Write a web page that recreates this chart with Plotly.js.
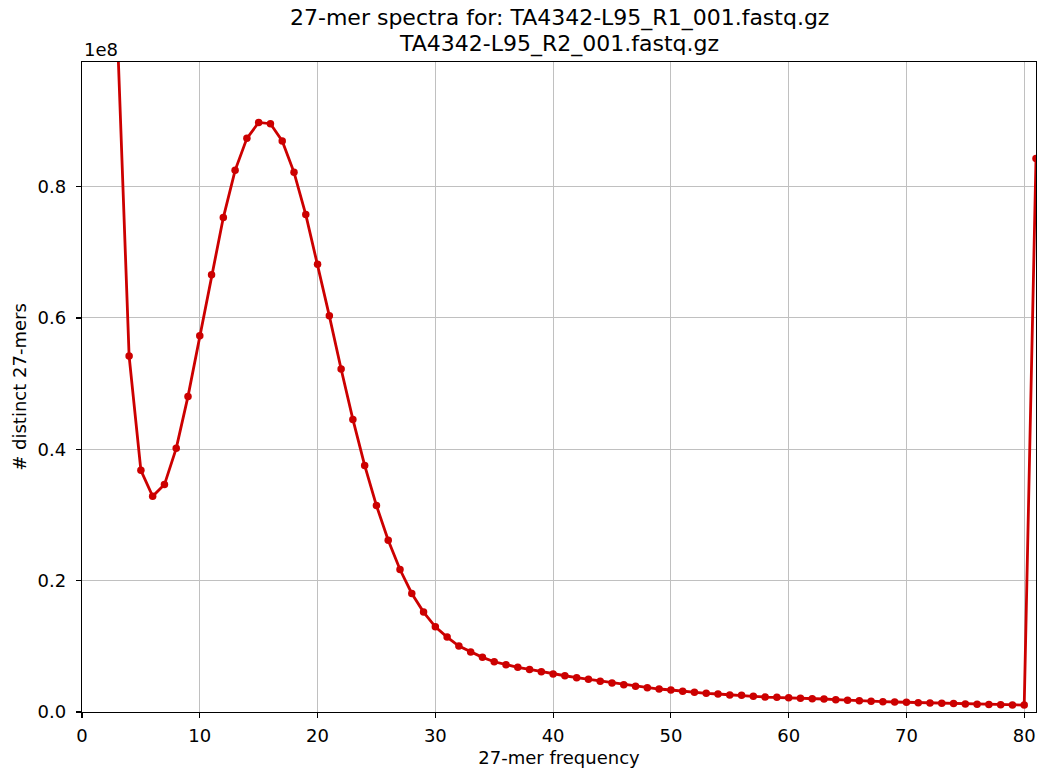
<!DOCTYPE html>
<html>
<head>
<meta charset="utf-8">
<script src="https://cdn.plot.ly/plotly-3.0.1.min.js"></script>
<style>html,body{margin:0;padding:0;background:#fff;}#chart{width:1039px;height:771px;}</style>
</head>
<body>
<div id="chart"></div>
<script>
// 27-mer frequency (multiplicity)
const frequency = [1,2,3,4,5,6,7,8,9,10,11,12,13,14,15,16,17,18,19,20,21,22,23,24,25,26,27,28,29,30,31,32,33,34,35,36,37,38,39,40,41,42,43,44,45,46,47,48,49,50,51,52,53,54,55,56,57,58,59,60,61,62,63,64,65,66,67,68,69,70,71,72,73,74,75,76,77,78,79,80,81];
// number of distinct 27-mers (in units of 1e8)
const distinctE8 = [5.0,2.0,1.035,0.542,0.368,0.3285,0.3463,0.4015,0.4806,0.573,0.6657,0.7529,0.8248,0.8735,0.8978,0.8958,0.8695,0.8218,0.7574,0.6819,0.6033,0.5222,0.4456,0.3755,0.3143,0.2616,0.2170,0.1805,0.1521,0.1298,0.1141,0.1004,0.0913,0.0832,0.0765,0.0720,0.0680,0.0649,0.0613,0.0578,0.0552,0.0522,0.0497,0.0467,0.0441,0.0416,0.0391,0.0370,0.0350,0.0335,0.0315,0.0300,0.0284,0.0274,0.0259,0.0254,0.0239,0.0228,0.0224,0.0218,0.0208,0.0203,0.0198,0.0188,0.0178,0.0172,0.0163,0.0157,0.0152,0.0148,0.0142,0.0137,0.0133,0.0128,0.0123,0.0119,0.0115,0.0112,0.0108,0.0105,0.843];
const yTickLabels = ['0.0','0.2','0.4','0.6','0.8'];
const xTickLabels = ['0','10','20','30','40','50','60','70','80'];
const titleLines = ['27-mer spectra for: TA4342-L95_R1_001.fastq.gz', 'TA4342-L95_R2_001.fastq.gz'];

const scale = 1e8;
const distinct = distinctE8.map(v => v * scale);
const yTickVals = yTickLabels.map(s => parseFloat(s) * scale);
const xTickVals = xTickLabels.map(Number);

const font = 'DejaVu Sans, Liberation Sans, sans-serif';

const trace = {
  x: frequency,
  y: distinct,
  type: 'scatter',
  mode: 'lines+markers',
  line: {color: '#cc0000', width: 2.8},
  marker: {color: '#cc0000', size: 7.5},
  cliponaxis: true,
  hoverinfo: 'x+y'
};

const layout = {
  width: 1039,
  height: 771,
  paper_bgcolor: '#ffffff',
  plot_bgcolor: '#ffffff',
  margin: {l: 82, r: 3, t: 62, b: 59},
  showlegend: false,
  xaxis: {
    range: [0, 81],
    tickvals: xTickVals,
    ticktext: xTickLabels,
    ticks: 'outside', ticklen: 5, tickwidth: 1.2, tickcolor: '#000',
    ticklabelstandoff: 2,
    showgrid: true, gridcolor: '#c0c0c0', gridwidth: 1,
    zeroline: false,
    showline: true, linecolor: '#000', linewidth: 1.3, mirror: true,
    tickfont: {family: font, size: 18, color: '#000'},
    title: {text: '27-mer frequency', font: {family: font, size: 18, color: '#000'}, standoff: 6}
  },
  yaxis: {
    range: [0, 0.9898e8],
    tickvals: yTickVals,
    ticktext: yTickLabels,
    ticks: 'outside', ticklen: 5, tickwidth: 1.2, tickcolor: '#000',
    ticklabelstandoff: 6,
    showgrid: true, gridcolor: '#c0c0c0', gridwidth: 1,
    zeroline: false,
    showline: true, linecolor: '#000', linewidth: 1.3, mirror: true,
    tickfont: {family: font, size: 18, color: '#000'},
    title: {text: '# distinct 27-mers', font: {family: font, size: 18, color: '#000'}, standoff: 6}
  },
  annotations: [
    {
      text: '1e8', xref: 'paper', yref: 'paper', x: 0, y: 1,
      xanchor: 'left', yanchor: 'bottom', showarrow: false, yshift: 0,
      font: {family: font, size: 18, color: '#000'}
    },
    {
      text: titleLines[0], xref: 'paper', yref: 'paper', x: 0.5, y: 1,
      xanchor: 'center', yanchor: 'middle', showarrow: false, yshift: 44,
      font: {family: font, size: 22, color: '#000'}
    },
    {
      text: titleLines[1], xref: 'paper', yref: 'paper', x: 0.5, y: 1,
      xanchor: 'center', yanchor: 'middle', showarrow: false, yshift: 18,
      font: {family: font, size: 22, color: '#000'}
    }
  ]
};

Plotly.newPlot('chart', [trace], layout, {displayModeBar: false, staticPlot: true});
</script>
</body>
</html>
